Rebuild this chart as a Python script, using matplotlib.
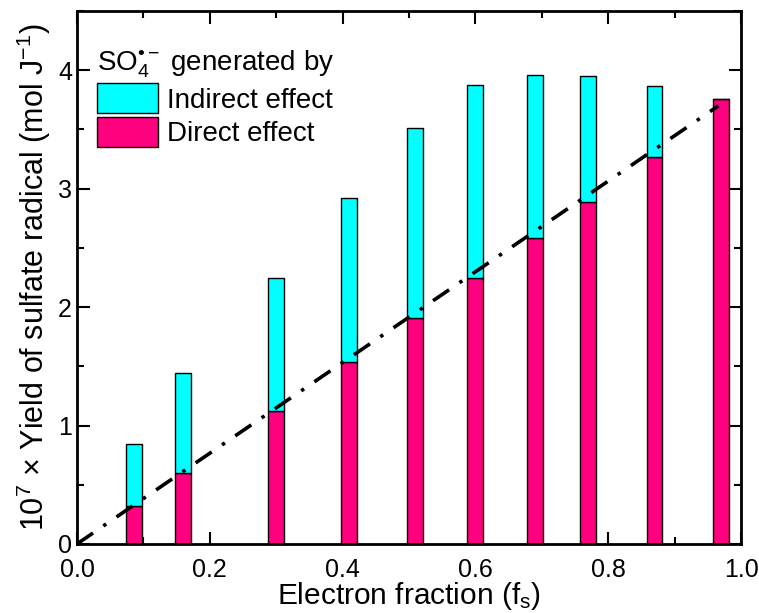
import matplotlib
matplotlib.use("Agg")
import matplotlib.pyplot as plt
from matplotlib.ticker import MultipleLocator
from matplotlib.patches import Patch

plt.rcParams['font.family'] = ['Liberation Sans', 'DejaVu Sans']
plt.rcParams['mathtext.fontset'] = 'custom'
plt.rcParams['mathtext.rm'] = 'Liberation Sans'
plt.rcParams['mathtext.it'] = 'Liberation Sans'
plt.rcParams['mathtext.bf'] = 'Liberation Sans'
plt.rcParams['lines.scale_dashes'] = False

# Data
electron_fraction = [0.0854, 0.1596, 0.300, 0.409, 0.5095, 0.600, 0.690, 0.7696, 0.8697, 0.9696]
direct_effect = [0.317, 0.596, 1.125, 1.536, 1.907, 2.25, 2.587, 2.889, 3.266, 3.755]
total_yield = [0.844, 1.44, 2.25, 2.925, 3.51, 3.879, 3.963, 3.949, 3.868, 3.755]
indirect_effect = [t - d for t, d in zip(total_yield, direct_effect)]
line_x = [0.0, 0.966]
line_y = [0.0, 3.70]

cyan = '#00FFFF'
magenta = '#FF007F'

fig = plt.figure(figsize=(7.59, 6.13), dpi=100)
ax = fig.add_axes([0.1014, 0.1126, 0.8749, 0.8694])

bw = 0.024
ax.bar(electron_fraction, direct_effect, width=bw, color=magenta, edgecolor='black', linewidth=1.0, zorder=2)
ax.bar(electron_fraction, indirect_effect, width=bw, bottom=direct_effect, color=cyan, edgecolor='black', linewidth=1.0, zorder=2)

ax.plot(line_x, line_y, color='black', linewidth=2.6, dashes=(14, 9, 2.5, 9), zorder=3)

ax.set_xlim(0, 1.0)
ax.set_ylim(0, 4.5)
ax.xaxis.set_major_locator(MultipleLocator(0.2))
ax.xaxis.set_minor_locator(MultipleLocator(0.1))
ax.yaxis.set_major_locator(MultipleLocator(1))
ax.yaxis.set_minor_locator(MultipleLocator(0.5))
ax.xaxis.set_major_formatter(matplotlib.ticker.FormatStrFormatter('%.1f'))

ax.tick_params(which='both', direction='in', top=True, right=True, width=1.5, labelsize=18)
ax.tick_params(which='major', length=9)
ax.tick_params(which='minor', length=5)
ax.tick_params(axis='x', pad=10)
for s in ax.spines.values():
    s.set_linewidth(2)

ax.set_xlabel(r"Electron fraction (f$_\mathrm{s}$)", fontsize=21.5, labelpad=-1)
ax.set_ylabel(r"10$^7$ × Yield of sulfate radical (mol J$^{-1}$)", fontsize=22, labelpad=4)

handles = [Patch(facecolor=cyan, edgecolor='black', linewidth=1.0),
           Patch(facecolor=magenta, edgecolor='black', linewidth=1.0)]
leg = ax.legend(handles, ['Indirect effect', 'Direct effect'],
                title="SO$_4^{\u2022-}$ generated by", title_fontsize=20,
                fontsize=20, frameon=False, loc='upper left',
                bbox_to_anchor=(0.03, 0.93), borderpad=0, borderaxespad=0,
                handlelength=2.2, handleheight=1.3, handletextpad=0.33,
                labelspacing=0.12, alignment='left')

fig.savefig('out.png', dpi=100)
